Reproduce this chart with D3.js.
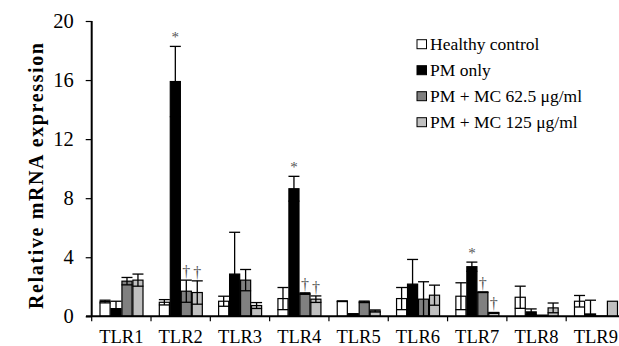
<!DOCTYPE html>
<html lang="en"><head>
<meta charset="UTF-8">
<title>TLR mRNA expression</title>
<script src="https://cdn.jsdelivr.net/npm/d3@7"></script>
<style>
body { margin: 0; background: #fff; }
svg { display: block; font-family: "Liberation Serif", "Times New Roman", serif; }
</style>
</head>
<body>
<script>

var width = 619;
var height = 346;

var categories = ["TLR1", "TLR2", "TLR3", "TLR4", "TLR5", "TLR6", "TLR7", "TLR8", "TLR9"];
var seriesNames = ["Healthy control", "PM only", "PM + MC 62.5 \u03bcg/ml", "PM + MC 125 \u03bcg/ml"];
var seriesColors = ["#ffffff", "#000000", "#808080", "#c0c0c0"];

var healthy    = [1.0, 0.95, 1.02, 1.2, 1.02, 1.2, 1.36, 1.29, 1.02];
var healthyErr = [0.09, 0.18, 0.34, 0.75, 0.02, 0.75, 0.91, 0.75, 0.39];
var pmOnly     = [0.52, 15.9, 2.86, 8.64, 0.18, 2.18, 3.36, 0.3, 0.16];
var pmOnlyErr  = [0.5, 2.38, 2.83, 0.84, 0.0, 1.67, 0.31, 0.2, 0.93];
var mc62       = [2.38, 1.7, 2.45, 1.54, 0.98, 1.16, 1.63, 0.08, 0.02];
var mc62Err    = [0.25, 0.75, 0.72, 0.05, 0.05, 1.18, 0.02, 0.0, 0.0];
var mc125      = [2.45, 1.61, 0.73, 1.16, 0.36, 1.43, 0.23, 0.57, 1.02];
var mc125Err   = [0.41, 0.79, 0.2, 0.22, 0.07, 0.68, 0.03, 0.33, 0.0];

// significance marks: [category, series index, symbol]
var marks = [
  ["TLR2", 1, "*"], ["TLR2", 2, "\u2020"], ["TLR2", 3, "\u2020"],
  ["TLR4", 1, "*"], ["TLR4", 2, "\u2020"], ["TLR4", 3, "\u2020"],
  ["TLR7", 1, "*"], ["TLR7", 2, "\u2020"], ["TLR7", 3, "\u2020"]
];

var yTicks = [0, 4, 8, 12, 16, 20];

var values = [healthy, pmOnly, mc62, mc125];
var errors = [healthyErr, pmOnlyErr, mc62Err, mc125Err];

var rows = [];
categories.forEach(function(c, i){
  for (var s = 0; s < 4; s++) {
    rows.push({cat: c, s: s, v: values[s][i], e: errors[s][i]});
  }
});

var svg = d3.select("body").append("svg")
  .attr("width", width)
  .attr("height", height);

var x0 = d3.scaleBand().domain(categories).range([91.7, 625.5]).padding(0);
var x1 = d3.scaleBand().domain([0, 1, 2, 3]).range([8.3, 51.3]).paddingInner(0.08);
var y = d3.scaleLinear().domain([0, 20]).range([316.3, 21]);

// bars
svg.append("g").selectAll("rect")
  .data(rows).enter()
  .append("rect")
  .attr("x", function(d){ return x0(d.cat) + x1(d.s); })
  .attr("y", function(d){ return y(d.v); })
  .attr("width", x1.bandwidth())
  .attr("height", function(d){ return y(0) - y(d.v); })
  .attr("fill", function(d){ return seriesColors[d.s]; })
  .attr("stroke", "#000")
  .attr("stroke-width", 1.2);

// error bars
var eb = svg.append("g").selectAll("g")
  .data(rows.filter(function(d){ return d.e > 0; })).enter()
  .append("g")
  .attr("stroke", "#000")
  .attr("stroke-width", 1.3);

function cx(d){ return x0(d.cat) + x1(d.s) + x1.bandwidth() / 2; }

eb.append("line")
  .attr("x1", cx).attr("x2", cx)
  .attr("y1", function(d){ return y(d.v + d.e); })
  .attr("y2", function(d){ return y(Math.max(0, d.v - d.e)); });
eb.append("line")
  .attr("x1", function(d){ return cx(d) - 5.5; })
  .attr("x2", function(d){ return cx(d) + 5.5; })
  .attr("y1", function(d){ return y(d.v + d.e); })
  .attr("y2", function(d){ return y(d.v + d.e); });
eb.append("line")
  .attr("x1", function(d){ return cx(d) - 5.5; })
  .attr("x2", function(d){ return cx(d) + 5.5; })
  .attr("y1", function(d){ return y(Math.max(0, d.v - d.e)); })
  .attr("y2", function(d){ return y(Math.max(0, d.v - d.e)); });

// significance marks
svg.append("g").selectAll("text")
  .data(marks).enter()
  .append("text")
  .attr("x", function(m){ return x0(m[0]) + x1(m[1]) + x1.bandwidth() / 2; })
  .attr("y", function(m){
    var i = categories.indexOf(m[0]);
    var top = y(values[m[1]][i] + errors[m[1]][i]);
    return m[2] == "*" ? top - 4 : top - 3;
  })
  .attr("text-anchor", "middle")
  .attr("font-size", function(m){ return m[2] == "*" ? 15 : 16; })
  .attr("fill", "#555")
  .text(function(m){ return m[2]; });

// y axis
var yAxis = svg.append("g")
  .attr("transform", "translate(91.7,0)")
  .call(d3.axisLeft(y).tickValues(yTicks).tickSize(6).tickPadding(12));
yAxis.select(".domain").attr("stroke-width", 2).attr("d", "M0," + y(20) + "V" + y(0));
yAxis.selectAll(".tick line").attr("stroke-width", 1.2);
yAxis.selectAll("text")
  .attr("font-size", 20.5)
  .attr("font-family", "Liberation Serif")
  .attr("fill", "#000");

// x axis
var xAxis = svg.append("g")
  .attr("transform", "translate(0," + y(0) + ")");
xAxis.append("line")
  .attr("x1", 86).attr("x2", 625.5)
  .attr("stroke", "#000").attr("stroke-width", 2);
xAxis.selectAll(".xt")
  .data(categories).enter()
  .append("line")
  .attr("class", "xt")
  .attr("x1", function(c){ return x0(c); })
  .attr("x2", function(c){ return x0(c); })
  .attr("y1", 0).attr("y2", 5)
  .attr("stroke", "#000").attr("stroke-width", 1.2);
xAxis.selectAll("text")
  .data(categories).enter()
  .append("text")
  .attr("x", function(c){ return x0(c) + x0.bandwidth() / 2; })
  .attr("y", 27)
  .attr("text-anchor", "middle")
  .attr("font-size", 18.5)
  .text(function(c){ return c; });

// y axis title
svg.append("text")
  .attr("transform", "translate(43,176) rotate(-90)")
  .attr("text-anchor", "middle")
  .attr("font-size", 20)
  .attr("font-weight", "bold")
  .attr("textLength", 266)
  .attr("lengthAdjust", "spacing")
  .text("Relative mRNA expression");

// legend
var legend = svg.append("g").selectAll("g")
  .data(seriesNames).enter()
  .append("g")
  .attr("transform", function(d, i){ return "translate(417," + (44.2 + i * 26) + ")"; });
legend.append("rect")
  .attr("x", 0).attr("y", -4.5)
  .attr("width", 9.5).attr("height", 9)
  .attr("fill", function(d, i){ return seriesColors[i]; })
  .attr("stroke", "#000").attr("stroke-width", 1);
legend.append("text")
  .attr("x", 13).attr("y", 5.5)
  .attr("font-size", 17.5)
  .text(function(d){ return d; });

</script>
</body></html>
